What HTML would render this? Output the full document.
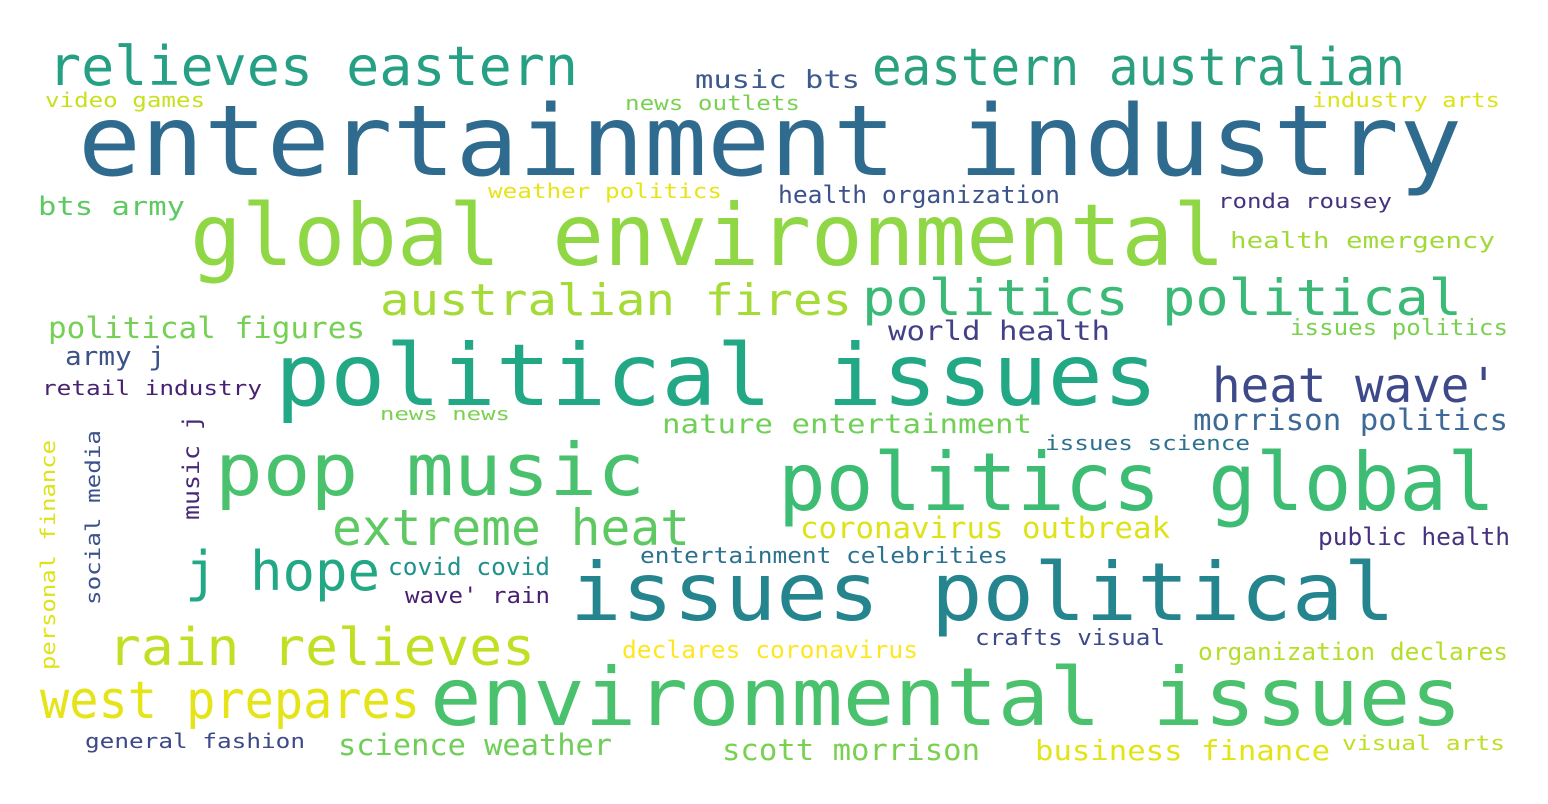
<!DOCTYPE html>
<html><head><meta charset="utf-8"><style>
html,body{margin:0;padding:0;background:#fff;width:1548px;height:804px;overflow:hidden}
svg text{font-family:"DejaVu Sans Mono","Liberation Mono",monospace}
</style></head><body>
<svg id="cloud" width="1548" height="804" viewBox="0 0 1548 804" xmlns="http://www.w3.org/2000/svg">
<rect width="1548" height="804" fill="#fff"/>
</svg>
<script>
const words = ["relieves eastern","music bts","eastern australian","video games","news outlets","industry arts","entertainment industry","weather politics","health organization","ronda rousey","bts army","global environmental","health emergency","australian fires","politics political","political figures","world health","issues politics","army j","political issues","heat wave'","retail industry","morrison politics","news news","nature entertainment","issues science","personal finance","social media","music j","pop music","politics global","extreme heat","coronavirus outbreak","public health","entertainment celebrities","j hope","covid covid","issues political","wave' rain","rain relieves","declares coronavirus","crafts visual","organization declares","west prepares","environmental issues","general fashion","science weather","scott morrison","business finance","visual arts"];
const colors = ["#26a085","#3d5a8c","#2aa07f","#c8e020","#7ad151","#dde318","#2f6b8e","#e7e419","#3b528b","#46337e","#5ec962","#8fd744","#a0da39","#a5db36","#3aba76","#75d054","#424086","#7ad151","#3b528b","#22a884","#3e4989","#482173","#3d6a96","#7ad151","#70cf57","#2c728e","#dde318","#3b528b","#482878","#4ac16d","#3dbc74","#5ec962","#dde318","#46327e","#2c728e","#22a884","#21918c","#25858e","#481f70","#c2df23","#fde725","#3e4989","#b5de2b","#e5e419","#4ac16d","#3e4989","#6ece58","#7ad151","#e2e418","#bddf26"];
// layout: [x, baseline y, font size, text length, rotated]
const layout = [[48,85,54,530,0],[695,88,25,165,0],[872,85,52,533,0],[45,107,20,160,0],[625,110,20,175,0],[1312,107,20,188,0],[78,175,98,1384,0],[488,198,20,234,0],[778,203,24,282,0],[1218,208,20,174,0],[38,215,26,147,0],[190,265,86,1035,0],[1230,248,22,265,0],[380,315,44,472,0],[862,315,50,600,0],[48,338,29,317,0],[888,340,27,222,0],[1290,335,22,218,0],[65,365,26,100,0],[275,405,86,883,0],[1212,402,48,286,0],[42,395,20,220,0],[1193,430,29,315,0],[380,420,18,130,0],[662,433,27,370,0],[1045,450,20,205,0],[55,670,20,230,1],[100,605,20,175,1],[199,520,23,105,1],[215,495,72,430,0],[778,510,80,717,0],[332,545,50,358,0],[800,538,29,370,0],[1318,545,24,192,0],[640,563,22,368,0],[185,590,54,195,0],[388,575,24,162,0],[570,620,80,825,0],[405,603,22,145,0],[108,665,52,427,0],[622,658,24,296,0],[975,645,22,190,0],[1198,660,24,310,0],[40,718,52,380,0],[430,725,80,1032,0],[85,748,20,220,0],[338,755,29,274,0],[722,760,29,258,0],[1035,760,28,295,0],[1342,750,20,163,0]];
const svg = document.getElementById('cloud');
const NS = "http://www.w3.org/2000/svg";
words.forEach((w,i)=>{
  const [x,y,fs,len,rot] = layout[i];
  const t = document.createElementNS(NS,'text');
  
  
  t.setAttribute('x', x); t.setAttribute('y', y);
  t.setAttribute('font-size', fs);
  t.setAttribute('fill', colors[i]);
  t.setAttribute('textLength', len);
  t.setAttribute('lengthAdjust', 'spacingAndGlyphs');
  if (rot) t.setAttribute('transform', `rotate(-90 ${x} ${y})`);
  t.textContent = w;
  svg.appendChild(t);
});
</script>
</body></html>
